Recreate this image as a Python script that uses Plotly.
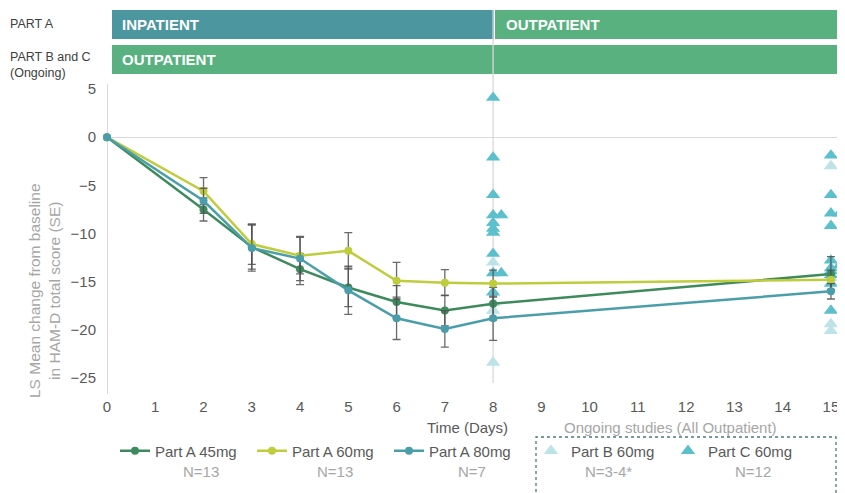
import plotly.graph_objects as go

# ---------------- data ----------------
days = [0, 2, 3, 4, 5, 6, 7, 8, 15]
a45 = [0, -7.5, -11.4, -13.7, -15.6, -17.1, -18.0, -17.3, -14.2]
a45_se = [0, 1.2, 2.3, 1.6, 2.0, 1.7, 1.6, 1.7, 1.8]
a60 = [0, -5.6, -11.1, -12.3, -11.8, -14.9, -15.1, -15.2, -14.8]
a60_se = [0, 1.4, 2.1, 1.9, 1.9, 1.9, 1.35, 1.4, 1.0]
a80 = [0, -6.6, -11.5, -12.6, -15.9, -18.8, -19.9, -18.8, -16.0]
a80_se = [0, 1.3, 2.4, 2.3, 2.5, 2.2, 1.9, 2.3, 0.8]

partC_day = [8, 8, 8, 8, 8.17, 8, 8, 8, 8, 8.17, 8, 8,
             15, 15, 15, 15.18, 15, 15, 15.18, 15, 15, 15, 15, 15]
partC_val = [4.1, -2.1, -6.0, -8.1, -8.1, -8.9, -9.9, -12.1, -14.1, -14.1, -16.1, -9.5,
             -1.9, -6.0, -7.9, -7.9, -9.2, -12.8, -13.3, -13.9, -14.3, -15.2, -18.0, -13.6]
partB_day = [8, 8, 8, 8, 15, 15, 15, 15]
partB_val = [-13.0, -17.2, -18.0, -23.4, -3.0, -19.4, -20.1, -14.6]

x_ticks = list(range(0, 16))
y_ticks = [5, 0, -5, -10, -15, -20, -25]
n_labels = ["N=13", "N=13", "N=7", "N=3-4*", "N=12"]

# ---------------- style ----------------
C45 = "#3d8a5c"
C60 = "#bfcc3c"
C80 = "#4a9eaa"
CC = "#5cc0cc"
CB = "#bde3e7"
TEAL_BAR = "#4c979f"
GREEN_BAR = "#58b17f"
GRID = "#d9d9d9"
TXT = "#595959"
LIGHT = "#a6a6a6"
FONT = "Liberation Sans, Arial, sans-serif"

W, H = 845, 493
OFF = 8  # page body margin offset of the plot div
PL, PT, PW, PH = 107, 84, 736, 310  # plot area in screen pixels
ML, MT = PL - OFF, PT - OFF
MR = W - ML - PW
MB = H - MT - PH


def px(xs):
    return (xs - PL) / PW


def py(ys):
    return (PT + PH - ys) / PH


fig = go.Figure()

fig.add_trace(go.Scatter(x=partB_day, y=partB_val, mode="markers", name="Part B 60mg",
                         marker=dict(symbol="triangle-up", size=12.5, color=CB),
                         cliponaxis=False, legend="legend4"))
fig.add_trace(go.Scatter(x=partC_day, y=partC_val, mode="markers", name="Part C 60mg",
                         marker=dict(symbol="triangle-up", size=12.5, color=CC),
                         cliponaxis=False, legend="legend5"))

eb = dict(type="data", thickness=1.3, width=4, color="rgba(80,80,80,0.85)")
for vals, se, col, nm, lg in [(a45, a45_se, C45, "Part A 45mg", "legend"),
                              (a60, a60_se, C60, "Part A 60mg", "legend2"),
                              (a80, a80_se, C80, "Part A 80mg", "legend3")]:
    fig.add_trace(go.Scatter(x=days, y=vals, mode="lines+markers", name=nm,
                             line=dict(color=col, width=2.5),
                             marker=dict(color=col, size=8),
                             error_y=dict(array=se, **eb),
                             cliponaxis=False, legend=lg))

shapes = []
# header bars
shapes.append(dict(type="rect", xref="paper", yref="paper", x0=px(112), x1=px(494),
                   y0=py(39), y1=py(10), fillcolor=TEAL_BAR, line_width=0, layer="below"))
shapes.append(dict(type="rect", xref="paper", yref="paper", x0=px(495), x1=px(841),
                   y0=py(39), y1=py(10), fillcolor=GREEN_BAR, line_width=0, layer="below"))
shapes.append(dict(type="rect", xref="paper", yref="paper", x0=px(112), x1=px(841),
                   y0=py(74), y1=py(45), fillcolor=GREEN_BAR, line_width=0, layer="below"))
# day 8 divider
shapes.append(dict(type="line", xref="x", yref="paper", x0=8, x1=8, y0=py(383), y1=py(10),
                   line=dict(color=GRID, width=1.3), layer="below"))
# dotted box
shapes.append(dict(type="rect", xref="paper", yref="paper", x0=px(536), x1=px(836),
                   y0=py(505), y1=py(437), line=dict(color="#4f7a7a", width=1.3, dash="dot"),
                   fillcolor="rgba(0,0,0,0)"))

ann = []
ann.append(dict(text="PART A", x=px(8), y=py(24), xanchor="left", yanchor="middle",
                font=dict(size=12.5, color="#404040")))
ann.append(dict(text="PART B and C", x=px(8), y=py(57), xanchor="left", yanchor="middle",
                font=dict(size=12.5, color="#404040")))
ann.append(dict(text="(Ongoing)", x=px(8), y=py(73), xanchor="left", yanchor="middle",
                font=dict(size=12.5, color="#404040")))
ann.append(dict(text="<b>INPATIENT</b>", x=px(120), y=py(24.5), xanchor="left", yanchor="middle",
                font=dict(size=15, color="white")))
ann.append(dict(text="<b>OUTPATIENT</b>", x=px(504), y=py(24.5), xanchor="left", yanchor="middle",
                font=dict(size=15, color="white")))
ann.append(dict(text="<b>OUTPATIENT</b>", x=px(120), y=py(59.5), xanchor="left", yanchor="middle",
                font=dict(size=15, color="white")))
ann.append(dict(text="LS Mean change from baseline<br>in HAM-D total score (SE)", textangle=-90,
                x=px(44), y=py(291), xanchor="center", yanchor="middle",
                font=dict(size=15.5, color=LIGHT)))
ann.append(dict(text="Time (Days)", x=px(467), y=py(427), xanchor="center", yanchor="middle",
                font=dict(size=15, color=TXT)))
ann.append(dict(text="Ongoing studies (All Outpatient)", x=px(670), y=py(427), xanchor="center",
                yanchor="middle", font=dict(size=15, color=LIGHT)))
for lab, cx in zip(n_labels, [201, 335, 472, 608, 753]):
    ann.append(dict(text=lab, x=px(cx), y=py(471), xanchor="center", yanchor="middle",
                    font=dict(size=15, color=LIGHT)))
for a in ann:
    a.update(xref="paper", yref="paper", showarrow=False)

leg_base = dict(orientation="h", xanchor="left", yanchor="middle",
                xref="container", yref="container", y=1 - (451 - OFF) / H,
                bgcolor="rgba(0,0,0,0)", borderwidth=0, itemwidth=30,
                font=dict(size=15, color=TXT, family=FONT))
layout_legends = {}
for key, xstart in [("legend", 115), ("legend2", 252), ("legend3", 389),
                    ("legend4", 531), ("legend5", 668)]:
    layout_legends[key] = dict(leg_base, x=(xstart - OFF) / W)

fig.update_layout(
    width=W, height=H,
    margin=dict(l=ML, r=MR, t=MT, b=MB, autoexpand=False),
    paper_bgcolor="white", plot_bgcolor="white",
    font=dict(family=FONT, size=15, color=TXT),
    showlegend=True,
    shapes=shapes, annotations=ann,
    **layout_legends,
)
fig.update_xaxes(range=[0, 15.25], tickvals=x_ticks, ticktext=[str(v) for v in x_ticks],
                 showgrid=False, zeroline=True, zerolinecolor=GRID, zerolinewidth=1.3,
                 showline=False, ticks="", ticklabelstandoff=2, automargin=False,
                 tickfont=dict(size=15, color=TXT))
fig.update_yaxes(range=[-26.66, 5.52], tickvals=y_ticks, showgrid=False,
                 zeroline=True, zerolinecolor=GRID, zerolinewidth=1.3,
                 showline=False, ticks="", ticklabelstandoff=10, automargin=False,
                 tickfont=dict(size=15, color=TXT))

fig.write_html("out.html")
